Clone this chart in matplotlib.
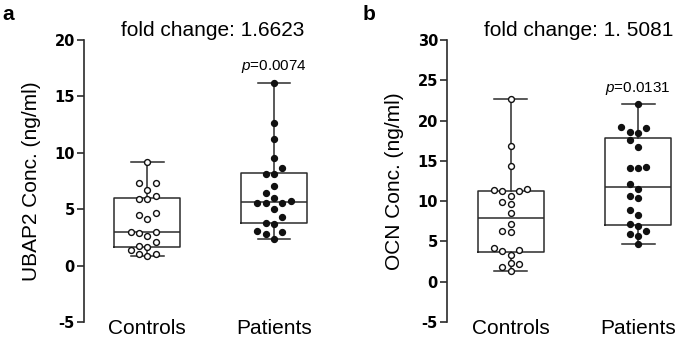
import matplotlib
matplotlib.use("Agg")
import matplotlib.pyplot as plt
import numpy as np

plt.rcParams["font.family"] = ["Liberation Sans", "DejaVu Sans"]
plt.rcParams["mathtext.fontset"] = "custom"
plt.rcParams["mathtext.it"] = "Liberation Sans:italic"
plt.rcParams["mathtext.rm"] = "Liberation Sans"

groups = ["Controls", "Patients"]

ubap2_controls = [9.2, 7.34, 7.34, 6.69, 6.18, 5.86, 5.86, 4.5, 4.64, 4.11, 3.0,
                  2.93, 2.97, 2.63, 2.07, 1.72, 1.63, 1.36, 1.04, 1.0, 0.83]
ubap2_patients = [16.19, 12.68, 11.23, 9.57, 8.63, 8.12, 8.12, 7.06, 6.44, 5.97, 5.7,
                  5.58, 5.58, 5.58, 5.05, 4.31, 3.78, 3.66, 2.98, 2.83, 3.04, 2.39]
ocn_controls = [22.7, 16.8, 14.32, 11.49, 11.2, 11.2, 11.33, 10.66, 9.92, 9.59, 8.55,
                7.18, 6.14, 6.31, 4.23, 3.82, 3.98, 3.36, 2.16, 1.83, 2.28, 1.29]
ocn_patients = [22.02, 19.07, 18.61, 19.24, 18.45, 17.57, 16.66, 14.26, 14.09, 14.09, 12.09,
                11.52, 10.68, 10.35, 8.94, 8.28, 7.11, 6.95, 6.29, 5.95, 5.62, 4.67]

panels = [
    dict(letter="a", ylabel="UBAP2 Conc. (ng/ml)", data=[ubap2_controls, ubap2_patients],
         ylim=(-5, 20), yticks=[-5, 0, 5, 10, 15, 20], fold="fold change: 1.6623",
         p="0.0074", p_y=17.3),
    dict(letter="b", ylabel="OCN Conc. (ng/ml)", data=[ocn_controls, ocn_patients],
         ylim=(-5, 30), yticks=[-5, 0, 5, 10, 15, 20, 25, 30], fold="fold change: 1. 5081",
         p="0.0131", p_y=23.55),
]

LINE = "#2b2b2b"
W, H = 675, 343


def box_stats(values):
    v = np.asarray(values)
    q1, med, q3 = np.percentile(v, [25, 50, 75], method="weibull")
    return dict(med=med, q1=q1, q3=q3, whislo=v.min(), whishi=v.max(), fliers=[])


def swarm(ax, values, center, step=8.3, min_dist=7.6):
    # simple beeswarm in pixel space
    vals = np.sort(np.asarray(values))
    placed = []
    out = []
    for v in vals:
        px, py = ax.transData.transform((center, v))
        k = 0
        while True:
            n = (k + 1) // 2 * (-1 if k % 2 else 1)
            x = px + n * step
            if all((x - a) ** 2 + (py - b) ** 2 >= min_dist ** 2 for a, b in placed):
                break
            k += 1
        placed.append((x, py))
        out.append(ax.transData.inverted().transform((x, py)))
    return np.array(out)


fig = plt.figure(figsize=(W / 100, H / 100), dpi=100)

axes_px = [(84, 247, 1.45), (447, 228, 1.29)]
fold_x = [213 / W, 579 / W]
letter_x = [2 / W, 363 / W]

for i, (cfg, (x0, wpx, xmax)) in enumerate(zip(panels, axes_px)):
    ax = fig.add_axes([x0 / W, 21 / H, wpx / W, 282 / H])
    ax.set_xlim(-0.5, xmax)
    ax.set_ylim(*cfg["ylim"])

    stats = [box_stats(d) for d in cfg["data"]]
    lp = dict(color=LINE, linewidth=1.1)
    ax.bxp(stats, positions=[0, 1], widths=0.52, capwidths=0.26, showfliers=False,
           boxprops=lp, whiskerprops=lp, capprops=lp, medianprops=lp, manage_ticks=False)

    for j, d in enumerate(cfg["data"]):
        pts = swarm(ax, d, j)
        face = "white" if j == 0 else "#111111"
        ax.scatter(pts[:, 0], pts[:, 1], s=18, facecolor=face, edgecolor="#111111",
                   linewidth=1.0, zorder=3, clip_on=False)

    for side in ["top", "right", "bottom"]:
        ax.spines[side].set_visible(False)
    ax.spines["left"].set_color(LINE)
    ax.spines["left"].set_linewidth(1.2)

    ax.set_yticks(cfg["yticks"])
    ax.set_yticklabels([str(t) for t in cfg["yticks"]], fontweight="bold", fontsize=10.5,
                       family="DejaVu Sans")
    ax.tick_params(axis="y", length=5, width=1.2, color=LINE, pad=1.5)
    ax.set_xticks([0, 1])
    ax.set_xticklabels(groups, fontsize=15)
    ax.tick_params(axis="x", length=0, pad=-2)
    ax.set_ylabel(cfg["ylabel"], fontsize=15, labelpad=10)

    ax.text(1, cfg["p_y"], r"$\it{p}$=" + cfg["p"], ha="center", va="baseline", fontsize=11)

    fig.text(fold_x[i], 1 - 36 / H, cfg["fold"], ha="center", va="baseline", fontsize=15)
    fig.text(letter_x[i], 1 - 20.5 / H, cfg["letter"], ha="left", va="baseline",
             fontsize=15, fontweight="bold")

fig.savefig("out.png", dpi=100)
